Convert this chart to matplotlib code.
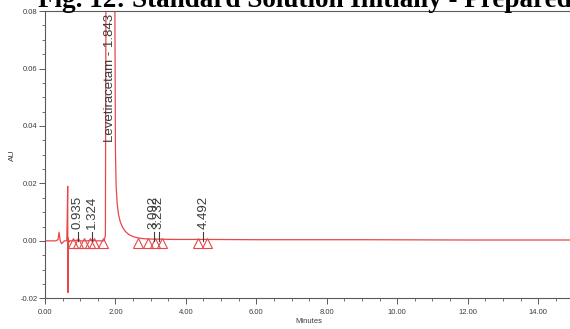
"""HPLC chromatogram - standard solution, initially prepared."""

import matplotlib
matplotlib.use("Agg")
import matplotlib.pyplot as plt
import matplotlib.ticker as mticker

TRACE_RED = "#e8474a"
AXIS_GRAY = "#5a5a5a"
TEXT_GRAY = "#3c3c3c"

# detector trace (minutes, AU)
times = [0.00, 0.30, 0.37, 0.40, 0.43, 0.47, 0.55, 0.62, 0.645, 0.650, 0.660,
         0.675, 0.70, 0.80, 0.935, 1.00, 1.20, 1.324, 1.45, 1.68, 1.715, 1.73,
         1.76, 1.843, 1.93, 1.985, 2.00, 2.02, 2.05, 2.09, 2.14, 2.20, 2.28,
         2.38, 2.50, 2.65, 2.85, 3.092, 3.232, 3.60, 4.492, 6.00, 9.00, 12.00,
         15.00]
absorbance = [0.0000, 0.0000, 0.0004, 0.0030, 0.0002, -0.0010, 0.0000,
              0.0000, 0.0190, -0.0180, 0.0010, -0.0005, 0.0000, 0.0000,
              0.0003, 0.0000, 0.0000, 0.0003, 0.0000, 0.0000, 0.0020, 0.0800,
              0.2000, 0.4000, 0.2000, 0.0800, 0.0320, 0.0190, 0.0130, 0.0090,
              0.0065, 0.0048, 0.0033, 0.0022, 0.0015, 0.0010, 0.0007, 0.0006,
              0.0006, 0.0005, 0.0005, 0.0004, 0.0004, 0.0003, 0.0003]

# integration start/end markers on the baseline
marker_times = [0.80, 0.95, 1.10, 1.27, 1.38, 1.66, 2.64, 2.93, 3.12, 3.32,
                4.35, 4.60]

# retention-time labels
peak_times = [0.935, 1.324, 3.092, 3.232, 4.492]
peak_labels = ["0.935", "1.324", "3.092", "3.232", "4.492"]
main_time = 1.843
main_label = "Levetiracetam - 1.843"

title = "Fig. 12: Standard Solution Initially - Prepared"

fig = plt.figure(figsize=(5.7, 3.29), dpi=100)
ax = fig.add_axes([0.0789, 0.0933, 0.927, 0.873])

ax.plot(times, absorbance, color=TRACE_RED, lw=0.9)
ax.plot(marker_times, [-0.0008] * len(marker_times), ls="none", marker="^",
        ms=7.5, mfc="none", mec=TRACE_RED, mew=0.8)

for t, lab in zip(peak_times, peak_labels):
    ax.plot([t, t], [0.0, 0.0032], color=TEXT_GRAY, lw=0.8)
    ax.text(t, 0.0042, lab, rotation=90, ha="center", va="bottom",
            fontsize=9.5, color=TEXT_GRAY, family="Liberation Sans")
ax.text(main_time, 0.0345, main_label, rotation=90, ha="center", va="bottom",
        fontsize=9.5, color=TEXT_GRAY, family="Liberation Sans")

ax.set_xlim(0, 15)
ax.set_ylim(-0.02, 0.08)
ax.xaxis.set_major_locator(mticker.MultipleLocator(2))
ax.xaxis.set_minor_locator(mticker.MultipleLocator(0.5))
ax.yaxis.set_major_locator(mticker.MultipleLocator(0.02))
ax.yaxis.set_minor_locator(mticker.MultipleLocator(0.005))
ax.xaxis.set_major_formatter(mticker.FormatStrFormatter("%.2f"))
ax.yaxis.set_major_formatter(mticker.FormatStrFormatter("%.2f"))

for side in ("left", "bottom", "top"):
    ax.spines[side].set_color(AXIS_GRAY)
    ax.spines[side].set_linewidth(0.8)
ax.spines["right"].set_visible(False)
ax.tick_params(which="major", length=4, width=0.7, color=AXIS_GRAY,
               labelsize=5.5, labelcolor=TEXT_GRAY, pad=1.5)
ax.tick_params(axis="x", which="major", pad=3.5)
ax.tick_params(which="minor", length=2.5, width=0.6, color=AXIS_GRAY)
for lab in ax.get_xticklabels() + ax.get_yticklabels():
    lab.set_family("Liberation Sans")

ax.set_xlabel("Minutes", fontsize=5.5, color=TEXT_GRAY, labelpad=2,
              family="Liberation Sans")
ax.set_ylabel("AU", fontsize=6, color=TEXT_GRAY, labelpad=3,
              family="Liberation Sans")

fig.text(38 / 570, 1 - 7 / 329, title, ha="left", va="baseline",
         fontsize=19.5, fontweight="bold", family="Liberation Serif")

fig.savefig("out.png", dpi=100)
